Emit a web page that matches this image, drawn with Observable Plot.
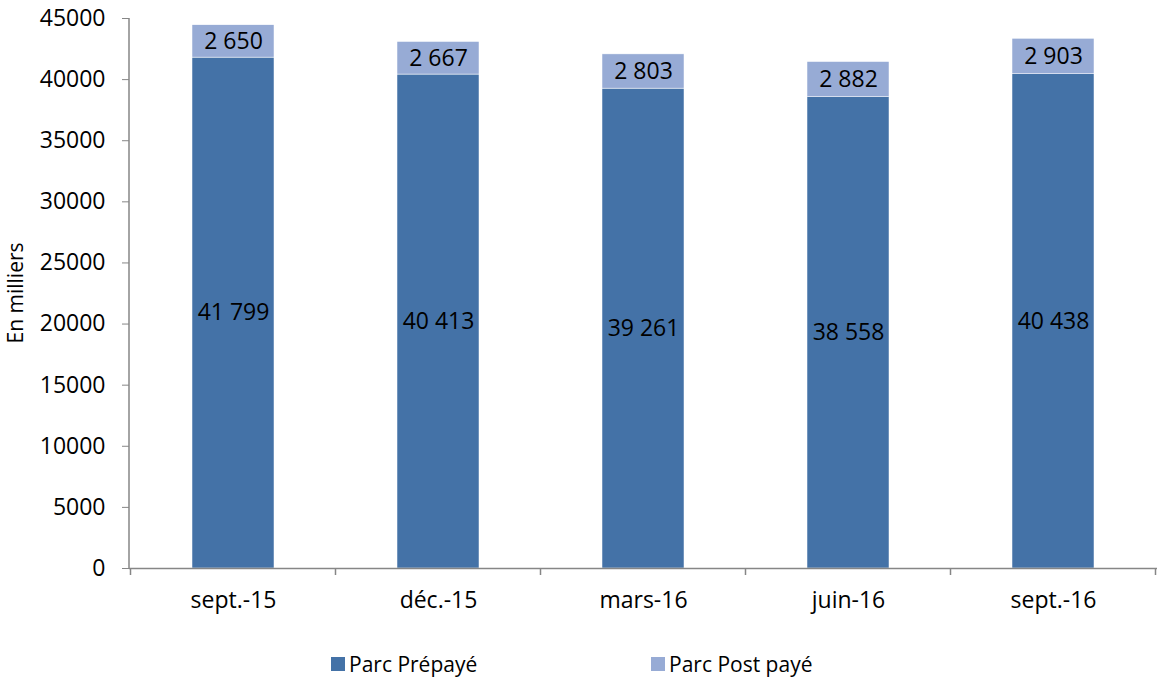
<!DOCTYPE html>
<html>
<head>
<meta charset="utf-8">
<script src="https://cdn.jsdelivr.net/npm/d3@7"></script>
<script src="https://cdn.jsdelivr.net/npm/@observablehq/plot@0.6"></script>
<style>
  html, body { margin: 0; padding: 0; background: #fff; }
  body { width: 1161px; height: 684px; overflow: hidden; font-family: "Open Sans", sans-serif; }
  #legend { position: relative; height: 44px; font-size: 21px; color: #000; }
  .li { position: absolute; top: 10px; display: flex; align-items: center; }
  .sw { width: 14px; height: 14px; margin-right: 4px; }
</style>
</head>
<body>
<div id="chart"></div>
<div id="legend"></div>
<script>
const categories = ["sept.-15", "déc.-15", "mars-16", "juin-16", "sept.-16"];
const prepaye = [41799, 40413, 39261, 38558, 40438];
const postpaye = [2650, 2667, 2803, 2882, 2903];
const series = ["Parc Prépayé", "Parc Post payé"];
const colors = ["#4472A7", "#97ABD5"];
const yTicks = [0, 5000, 10000, 15000, 20000, 25000, 30000, 35000, 40000, 45000];

const data = [];
categories.forEach((c, i) => {
  data.push({cat: c, serie: series[0], value: prepaye[i]});
  data.push({cat: c, serie: series[1], value: postpaye[i]});
});
const fmt = v => d3.format(",")(v).replace(/,/g, " ");

const W = 1161, H = 640, ML = 129, MR = 4, MT = 18, MB = 72;
const plot = Plot.plot({
  width: W, height: H,
  marginLeft: ML, marginRight: MR, marginTop: MT, marginBottom: MB,
  style: {fontFamily: "'Open Sans', sans-serif", fontSize: "23px", color: "#000", background: "#fff"},
  x: {domain: categories, paddingInner: 0.6, paddingOuter: 0.3, label: null},
  y: {domain: [0, 45000], label: null},
  color: {domain: series, range: colors},
  marks: [
    Plot.barY(data, Plot.stackY({x: "cat", y: "value", fill: "serie", z: "serie", order: series, stroke: "#fff", strokeWidth: 0.5})),
    Plot.text(data, Plot.stackY({x: "cat", y: "value", z: "serie", order: series, text: d => fmt(d.value), fill: "#000", fontSize: 23})),
    Plot.axisY({ticks: yTicks, tickFormat: d => String(d), tickSize: 7, tickPadding: 17, stroke: "#868686", label: null, fontSize: 23}),
    Plot.axisX({tickSize: 0, tickPadding: 23, label: null, fontSize: 23}),
    Plot.ruleY([0], {stroke: "#868686", strokeWidth: 1.5})
  ]
});
document.getElementById("chart").appendChild(plot);

// axis line and category boundary ticks, from the plot's scales
const xs = plot.scale("x"), ys = plot.scale("y");
const svg = d3.select(plot);
const y0 = ys.apply(0), yTop = ys.apply(45000);
svg.append("line").attr("x1", ML).attr("x2", ML).attr("y1", yTop).attr("y2", y0)
  .attr("stroke", "#868686").attr("stroke-width", 1.5);
const step = xs.step;
categories.forEach((c, i) => {
  const center = xs.apply(c) + xs.bandwidth / 2;
  const left = center - step / 2;
  svg.append("line").attr("x1", left).attr("x2", left).attr("y1", y0).attr("y2", y0 + 7)
    .attr("stroke", "#868686").attr("stroke-width", 1.5);
  if (i === categories.length - 1) {
    const right = center + step / 2;
    svg.append("line").attr("x1", right).attr("x2", right).attr("y1", y0).attr("y2", y0 + 7)
      .attr("stroke", "#868686").attr("stroke-width", 1.5);
  }
});
// y label
svg.append("text").attr("transform", `translate(15,${(y0 + yTop) / 2}) rotate(-90)`)
  .attr("text-anchor", "middle").attr("dominant-baseline", "central")
  .attr("font-size", 21).attr("fill", "#000").text("En milliers");

// legend
const lg = document.getElementById("legend");
const lx = [331, 651];
series.forEach((s, i) => {
  const d = document.createElement("div");
  d.className = "li"; d.style.left = lx[i] + "px";
  d.innerHTML = `<div class="sw" style="background:${colors[i]}"></div><span>${s}</span>`;
  lg.appendChild(d);
});
</script>
</body>
</html>
